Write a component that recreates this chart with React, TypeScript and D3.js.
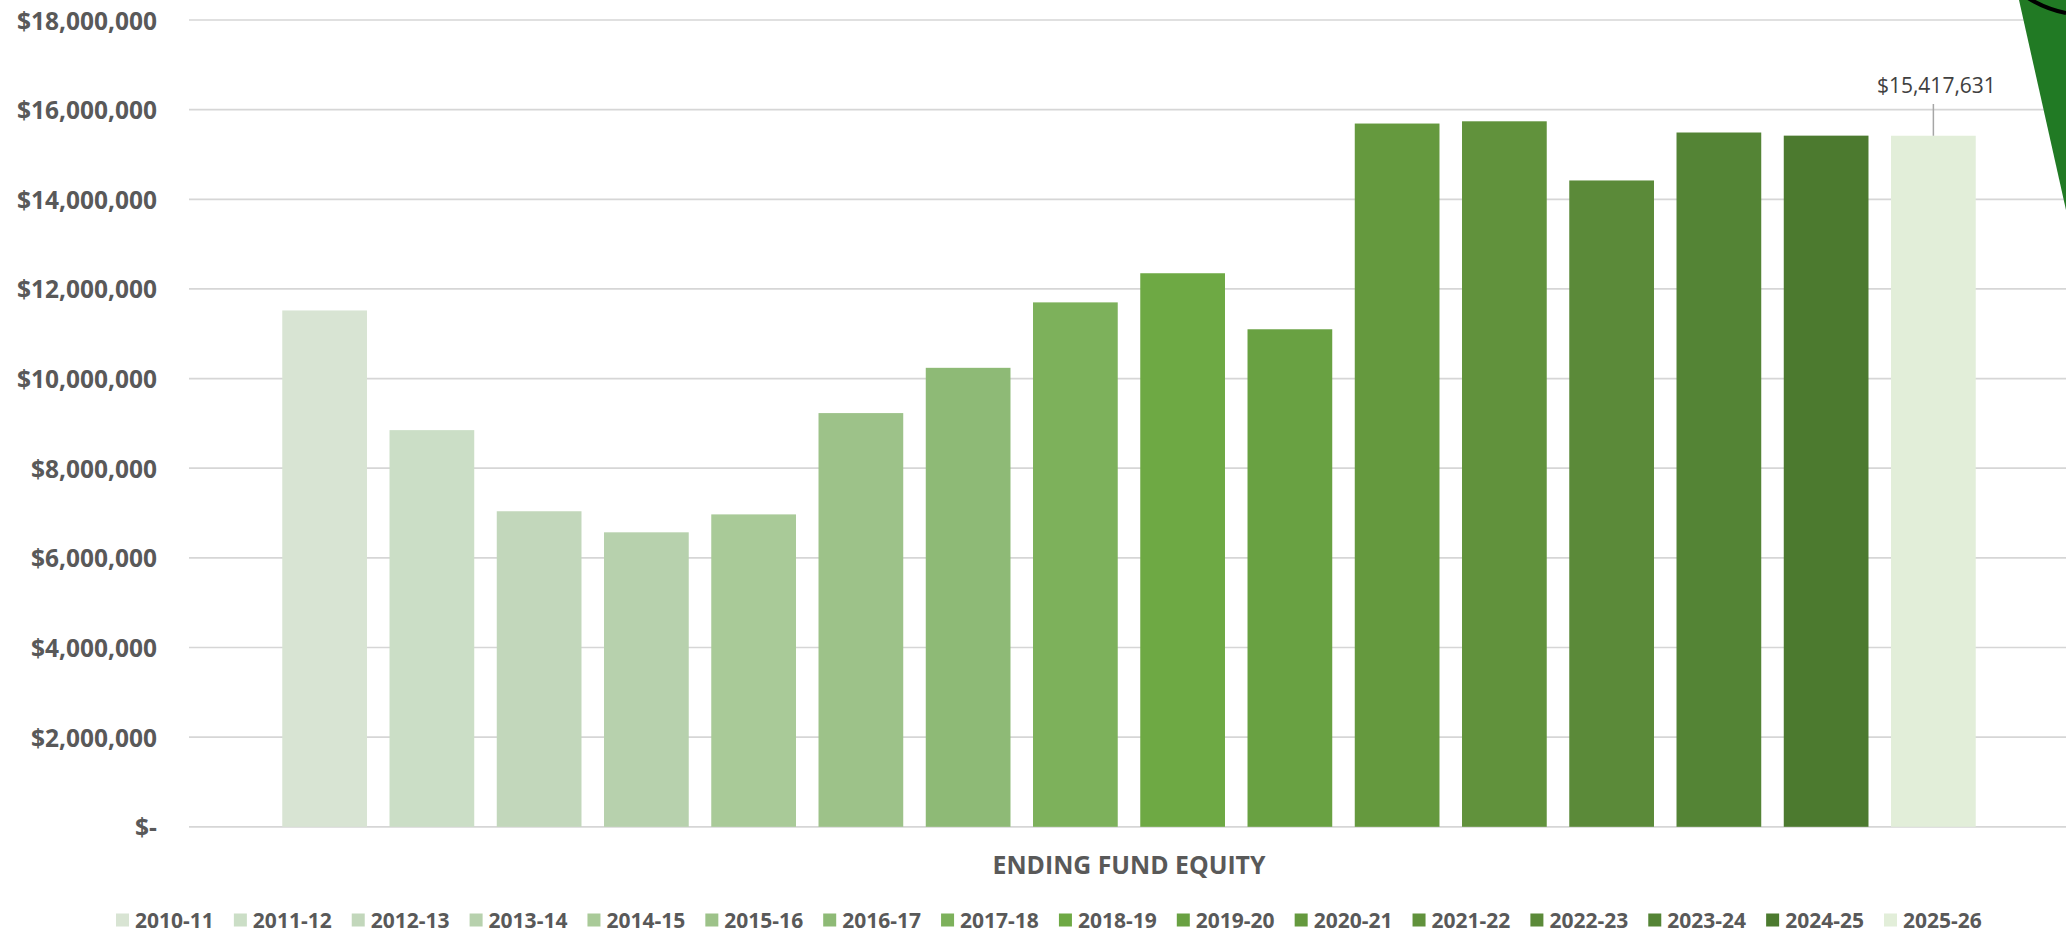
import * as d3 from "d3";

const years = [
  "2010-11", "2011-12", "2012-13", "2013-14", "2014-15", "2015-16", "2016-17", "2017-18",
  "2018-19", "2019-20", "2020-21", "2021-22", "2022-23", "2023-24", "2024-25", "2025-26",
];

const equity = [
  11520000, 8850000, 7040000, 6570000, 6970000, 9230000, 10240000, 11700000,
  12350000, 11100000, 15690000, 15740000, 14420000, 15490000, 15420000, 15417631,
];

const barColors = [
  "#d8e4d3", "#cbdec6", "#c2d7bb", "#b7d1ad", "#a9ca98", "#9dc289", "#8eba76", "#7db15b",
  "#6ea944", "#69a142", "#65993e", "#61923c", "#5b8a39", "#548435", "#4c7a2f", "#e2eed9",
];

const yTicks = [0, 2e6, 4e6, 6e6, 8e6, 10e6, 12e6, 14e6, 16e6, 18e6];
const categoryTitle = "ENDING FUND EQUITY";
const labeledIndex = 15;

const W = 2066;
const H = 934;

const fmtMoney = (v: number) => (v === 0 ? "$-" : "$" + d3.format(",")(v));

export default function App() {
  const y = d3.scaleLinear().domain([0, 18e6]).range([826.8, 20]);
  const x = d3.scaleBand<string>().domain(years).range([271, 1987]).paddingInner(0.21).paddingOuter(0.105);
  const legendX = d3.scalePoint<string>().domain(years).range([116, 1884]);

  const lx = x(years[labeledIndex])! + x.bandwidth() / 2;
  const ly = y(equity[labeledIndex]);

  return (
    <svg
      width={W}
      height={H}
      style={{ position: "absolute", left: 0, top: 0, display: "block", background: "#fff" }}
      fontFamily="'Open Sans', sans-serif"
    >
      {/* gridlines */}
      <g>
        {yTicks.map((t) => (
          <line key={t} x1={189} x2={W} y1={y(t)} y2={y(t)} stroke="#d6d6d6" strokeWidth={1.7} />
        ))}
      </g>

      {/* y axis labels */}
      <g fill="#595959" fontWeight={700} fontSize={24.5} textAnchor="end">
        {yTicks.map((t) => (
          <text key={t} x={157} y={y(t)} dominantBaseline="central">
            {fmtMoney(t)}
          </text>
        ))}
      </g>

      {/* bars */}
      <g>
        {equity.map((v, i) => (
          <rect
            key={years[i]}
            x={x(years[i])}
            y={y(v)}
            width={x.bandwidth()}
            height={y(0) - y(v)}
            fill={barColors[i]}
          />
        ))}
      </g>

      {/* data label with leader */}
      <line x1={lx} x2={lx} y1={104} y2={ly} stroke="#a6a6a6" strokeWidth={1.5} />
      <text x={lx + 3} y={93} textAnchor="middle" fontSize={21} fill="#404040">
        {fmtMoney(equity[labeledIndex])}
      </text>

      {/* category title */}
      <text x={(x.range()[0] + x.range()[1]) / 2} y={874} textAnchor="middle" fontSize={24.8} fontWeight={700} fill="#595959">
        {categoryTitle}
      </text>

      {/* legend */}
      <g fontSize={21} fontWeight={700} fill="#595959">
        {years.map((yr, i) => (
          <g key={yr} transform={`translate(${legendX(yr)},920)`}>
            <rect x={0} y={-6.5} width={13} height={13} fill={barColors[i]} />
            <text x={19} y={0} dominantBaseline="central">
              {yr}
            </text>
          </g>
        ))}
      </g>

      {/* decorative shape at top right */}
      <path d={`M2019,0 L${W},0 L${W},210 Z`} fill="#217a24" />
      <path d={`M2028,-2 Q2046,9 ${W},13`} fill="none" stroke="#000" strokeWidth={4} />
    </svg>
  );
}
